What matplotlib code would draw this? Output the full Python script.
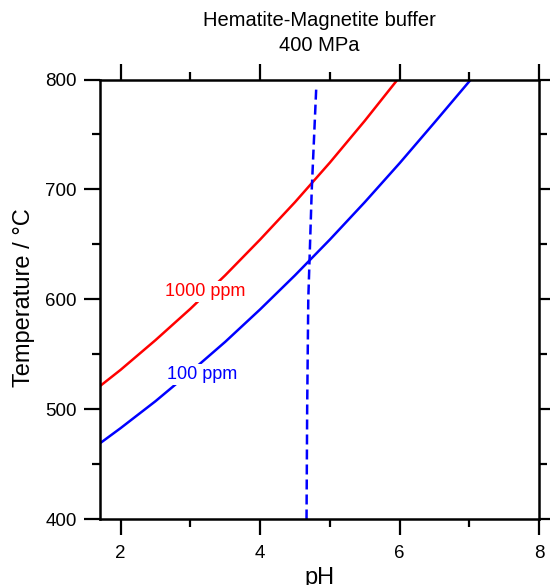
import matplotlib
matplotlib.use("Agg")
import matplotlib.pyplot as plt
from matplotlib.ticker import MultipleLocator

plt.rcParams['font.family'] = ['Liberation Sans', 'DejaVu Sans']

# Values (pH vs temperature in degC)
ph_1000 = [1.70, 2.0, 2.5, 3.0, 3.5, 4.0, 4.5, 5.0, 5.5, 5.97]
t_1000 = [521, 536, 563, 591.5, 622, 654.5, 688.5, 724.5, 762.5, 800]

ph_100 = [1.70, 2.0, 2.5, 3.0, 3.5, 4.0, 4.5, 5.0, 5.5, 6.0, 6.5, 7.02]
t_100 = [469, 483, 507.5, 534, 561.5, 591, 622, 654.5, 688.5, 724, 761, 800]

# near-vertical dashed boundary
ph_dash = [4.665, 4.674, 4.690, 4.740, 4.806]
t_dash = [400, 500, 600, 700, 795]

labels = ["1000 ppm", "100 ppm"]
label_pos = [(3.21, 607), (3.17, 532)]
colors = ["#ff0000", "#0000ff"]

fig = plt.figure(figsize=(5.5, 5.85), dpi=100)
ax = fig.add_axes([0.1811, 0.1120, 0.7994, 0.7521])

ax.plot(ph_1000, t_1000, color=colors[0], lw=1.8, zorder=2)
ax.plot(ph_100, t_100, color=colors[1], lw=1.8, zorder=2)
ax.plot(ph_dash, t_dash, color=colors[1], lw=1.8, dashes=(4, 2), zorder=2)

for lab, (x, y), c in zip(labels, label_pos, colors):
    ax.text(x, y, lab, color=c, fontsize=13, ha='center', va='center', zorder=3,
            bbox=dict(facecolor='white', edgecolor='none', pad=1.5))

ax.set_xlim(1.7, 8)
ax.set_ylim(400, 800)
ax.xaxis.set_major_locator(MultipleLocator(2))
ax.xaxis.set_minor_locator(MultipleLocator(1))
ax.yaxis.set_major_locator(MultipleLocator(100))
ax.yaxis.set_minor_locator(MultipleLocator(50))

for s in ax.spines.values():
    s.set_linewidth(1.8)

ax.tick_params(which='both', direction='out', top=True, right=True, width=1.6)
ax.tick_params(which='major', length=11.5)
ax.tick_params(which='minor', length=6)
ax.tick_params(axis='x', which='major', labelsize=13.5, pad=7)
ax.tick_params(axis='y', which='major', labelsize=13.5, pad=5)

ax.set_xlabel("pH", fontsize=17)
ax.xaxis.set_label_coords(0.5, -0.108)
ax.set_ylabel("Temperature / °C", fontsize=17)
ax.yaxis.set_label_coords(-0.147, 0.505)

fig.text(0.581, 0.943, "Hematite-Magnetite buffer\n400 MPa", fontsize=14.5,
         ha='center', va='center', linespacing=1.4)

fig.savefig("out.png", dpi=100)
